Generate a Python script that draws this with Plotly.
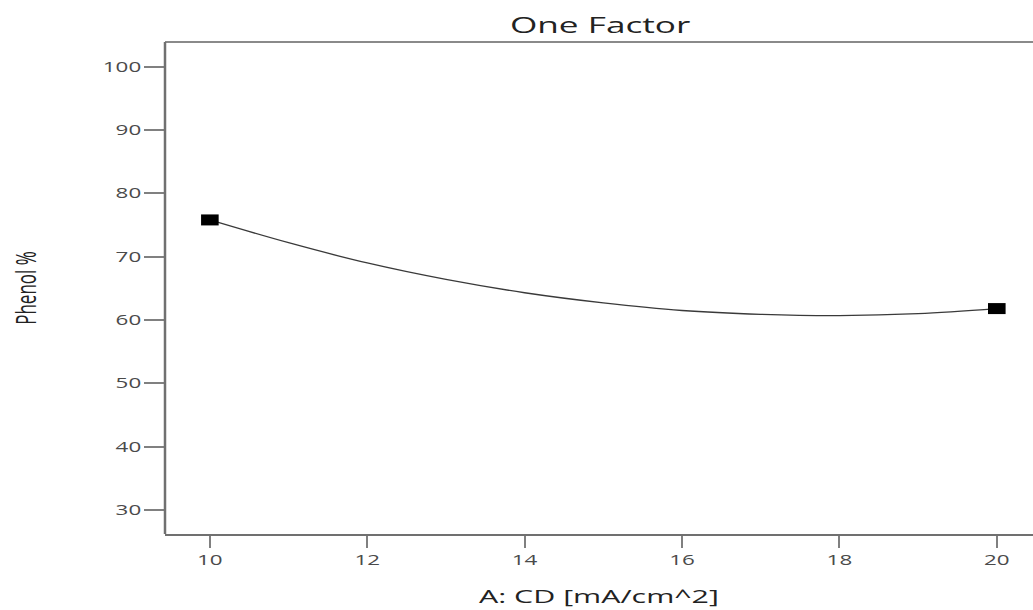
import plotly.graph_objects as go

# Design points (measured)
design_x = [10, 20]
design_y = [75.8, 61.8]

# Fitted curve
curve_x = [10, 11, 12, 13, 14, 15, 16, 17, 18, 19, 20]
curve_y = [75.8, 72.2, 69.0, 66.4, 64.3, 62.7, 61.5, 60.9, 60.7, 61.0, 61.8]

x_ticks = [10, 12, 14, 16, 18, 20]
y_ticks = [30, 40, 50, 60, 70, 80, 90, 100]

FONT = "Open Sans"
AXIS_GREY = "#707070"

fig = go.Figure()
fig.add_trace(go.Scatter(x=curve_x, y=curve_y, mode="lines",
                         line=dict(color="#3a3a3a", width=1.3, shape="spline"),
                         hoverinfo="skip", showlegend=False))
fig.add_trace(go.Scatter(x=design_x, y=design_y, mode="markers",
                         marker=dict(symbol="square", size=11, color="black",
                                     line=dict(width=0)),
                         showlegend=False))

# top frame line and left spine
fig.add_shape(type="line", xref="paper", yref="paper", x0=0, x1=1, y0=1, y1=1,
              line=dict(color="#8a8a8a", width=2))
fig.add_shape(type="line", xref="paper", yref="paper", x0=0, x1=0, y0=0, y1=1,
              line=dict(color=AXIS_GREY, width=2.5))

fig.update_layout(
    width=1033, height=610,
    margin=dict(l=165, r=0, t=42, b=76),
    paper_bgcolor="white", plot_bgcolor="white",
    font=dict(family=FONT, color="#444444"),
    title=dict(text="One Factor", x=0.581, xanchor="center", y=0.958, yanchor="middle",
               font=dict(family=FONT, size=22, color="#222222")),
    xaxis=dict(range=[9.43, 20.46], tickvals=x_ticks, ticks="outside", ticklen=12,
               tickwidth=2, tickcolor="#808080", showline=True, linecolor=AXIS_GREY,
               linewidth=2, mirror=False, showgrid=False, zeroline=False,
               tickfont=dict(family=FONT, size=14, color="#4a4a4a"),
               title=dict(text="A: CD [mA/cm^2]", standoff=22,
                          font=dict(family=FONT, size=19, color="#222222"))),
    yaxis=dict(range=[26.2, 103.9], tickvals=y_ticks, ticks="outside", ticklen=20,
               tickwidth=2, tickcolor="#808080", showline=False, mirror=False,
               showgrid=False, zeroline=False,
               tickfont=dict(family=FONT, size=14, color="#4a4a4a"),
               title=dict(text="Phenol %", standoff=76,
                          font=dict(family=FONT, size=17, color="#222222"))),
)

# The reference picture is horizontally stretched; emulate by widening glyphs and markers.
post = r"""
(function(){
  var gd = document.getElementById('{plot_id}');
  var S = 1.6;
  function stretch(){
    var texts = gd.querySelectorAll('text.gtitle, text.xtitle, text.ytitle, g.xtick text, g.ytick text');
    texts.forEach(function(el){
      var cur = el.getAttribute('transform') || '';
      if (el.dataset.st !== undefined && el.dataset.st === cur) return;
      var x = parseFloat(el.getAttribute('x')) || 0;
      var y = parseFloat(el.getAttribute('y')) || 0;
      var sc = cur.indexOf('rotate') >= 0 ? 'scale(1,' + S + ')' : 'scale(' + S + ',1)';
      var nt = cur + ' translate(' + x + ',' + y + ') ' + sc + ' translate(' + (-x) + ',' + (-y) + ')';
      el.setAttribute('transform', nt);
      el.dataset.st = nt;
    });
    gd.querySelectorAll('path.point').forEach(function(el){
      var cur = el.getAttribute('transform') || '';
      if (el.dataset.st !== undefined && el.dataset.st === cur) return;
      var nt = cur + ' scale(' + S + ',1)';
      el.setAttribute('transform', nt);
      el.dataset.st = nt;
    });
  }
  stretch();
  gd.on('plotly_afterplot', stretch);
})();
"""

fig.write_html("out.html", post_script=post)
